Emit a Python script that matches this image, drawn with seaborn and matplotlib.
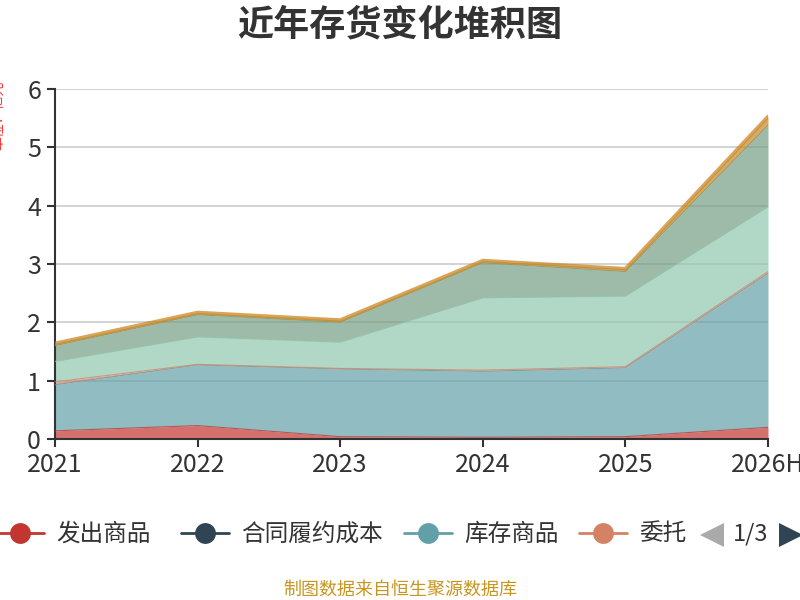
import numpy as np
import matplotlib.pyplot as plt
import seaborn as sns

years = ['2021', '2022', '2023', '2024', '2025', '2026H']
series_names = ['发出商品', '合同履约成本', '库存商品', '委托加工物资', '原材料', '在产品', '周转材料']
fachu = [0.14, 0.23, 0.04, 0.03, 0.04, 0.20]
hetong = [0.0, 0.0, 0.0, 0.0, 0.0, 0.0]
kucun = [0.79, 1.04, 1.16, 1.13, 1.18, 2.64]
weituo = [0.05, 0.01, 0.01, 0.02, 0.02, 0.03]
yuancailiao = [0.35, 0.47, 0.45, 1.24, 1.21, 1.11]
zaichanpin = [0.27, 0.38, 0.34, 0.60, 0.42, 1.40]
zhouzhuan = [0.04, 0.04, 0.04, 0.04, 0.05, 0.15]
colors = ['#c23531', '#2f4554', '#61a0a8', '#d48265', '#91c7ae', '#749f83', '#ca8622']

sns.set_theme(style="white")
plt.rcParams['font.family'] = ['Noto Sans CJK SC', 'DejaVu Sans']

fig = plt.figure(figsize=(8, 6), dpi=100)
ax = fig.add_axes([55 / 800, 1 - 439 / 600, (768 - 55) / 800, (439 - 89) / 600])

x = np.arange(len(years))
layers = np.array([fachu, hetong, kucun, weituo, yuancailiao, zaichanpin, zhouzhuan])
tops = np.cumsum(layers, axis=0)
base = np.zeros(len(years))
for i in range(len(layers)):
    ax.fill_between(x, base, tops[i], color=colors[i], alpha=0.7, linewidth=0, zorder=2 + i * 0.1)
    if layers[i].any():
        sns.lineplot(x=x, y=tops[i], ax=ax, color=colors[i], alpha=0.75,
                     linewidth=2.5 if i == 6 else 0.8, zorder=3, legend=False)
    base = tops[i]

ax.set_xlim(0, len(years) - 1)
ax.set_ylim(0, 6)
ax.set_xticks(x)
ax.set_xticklabels(years)
ax.set_yticks(range(7))
ax.yaxis.grid(True, color='#cccccc', linewidth=1.2, zorder=1)
ax.set_axisbelow(True)
for s in ['top', 'right']:
    ax.spines[s].set_visible(False)
for s in ['left', 'bottom']:
    ax.spines[s].set_color('#333333')
    ax.spines[s].set_linewidth(1.5)
ax.tick_params(axis='both', which='both', length=6, width=1.5, color='#333333',
               labelsize=18, labelcolor='#333333', direction='out')
ax.tick_params(axis='x', pad=3)
ax.tick_params(axis='y', pad=4)
ax.tick_params(left=True, bottom=True)
ax.set_xlabel('')
ax.set_ylabel('')

fig.text(0.5, 1 - 25 / 600, '近年存货变化堆积图', ha='center', va='center',
         fontsize=26, fontweight='bold', color='#333333')

# y axis name, mostly clipped at the left edge
fig.text(-2 / 800, 1 - 115 / 600, '单位：亿元', rotation=90, ha='center', va='center',
         fontsize=10, color='#ff3333')

# legend (first page of three)
lg = fig.add_axes([0, 0, 1, 1])
lg.set_xlim(0, 800)
lg.set_ylim(600, 0)
lg.axis('off')
items = [(20, '发出商品'), (205, '合同履约成本'), (428, '库存商品'), (603, '委托')]
for (cx, name), c in zip(items, colors):
    lg.plot([cx - 24, cx + 24], [533, 533], color=c, linewidth=2)
    lg.plot([cx], [533], marker='o', markersize=15, color=c, markeredgewidth=0)
    lg.text(cx + 36, 534, name, fontsize=17, color='#333333', va='center', ha='left')
lg.plot([712], [535], marker='<', markersize=17, color='#aaaaaa', markeredgewidth=0)
lg.text(751, 534, '1/3', fontsize=17, color='#333333', va='center', ha='center')
lg.plot([791], [535], marker='>', markersize=17, color='#2f4554', markeredgewidth=0)

fig.text(0.5, 1 - 590 / 600, '制图数据来自恒生聚源数据库', ha='center', va='center',
         fontsize=13, color='#c8961e')

fig.savefig('out.png', dpi=100)
